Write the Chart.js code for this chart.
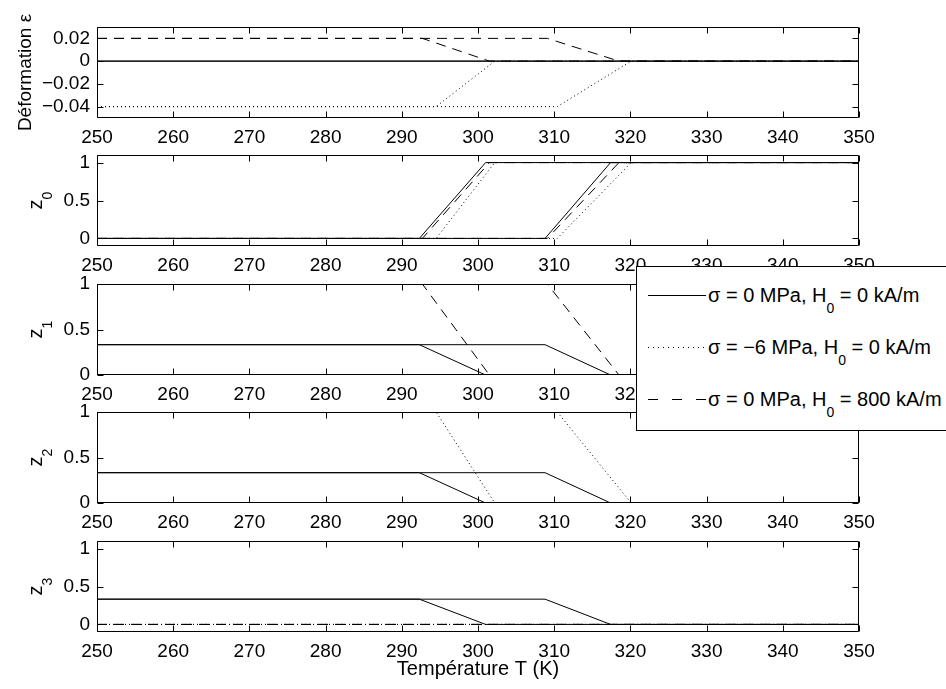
<!DOCTYPE html>
<html>
<head>
<meta charset="utf-8">
<script src="https://cdn.jsdelivr.net/npm/chart.js@4.4.1/dist/chart.umd.min.js"></script>
<style>
html, body { margin: 0; padding: 0; background: #fff; overflow: hidden; }
#wrap { position: relative; width: 946px; height: 689px; overflow: hidden; }
#wrap canvas { position: absolute; left: 0; }
#legend {
  position: absolute; left: 636px; top: 266px; width: 340px; height: 163px;
  border: 1px solid #000; background: #fff; z-index: 10;
  font: 20px "Liberation Sans", Arial, sans-serif; color: #000;
}
#legend .row { position: absolute; left: 11px; height: 22px; line-height: 22px; white-space: nowrap; }
#legend svg { vertical-align: top; }
#legend span { margin-left: 2px; }
#legend sub { font-size: 14px; vertical-align: -11px; line-height: 0; }
</style>
</head>
<body>
<div id="wrap">
  <div id="legend">
    <div class="row" style="top:17px">
      <svg width="58" height="22"><line x1="0" y1="11.5" x2="58" y2="11.5" stroke="#000" stroke-width="1"/></svg><span>σ = 0 MPa, H<sub>0</sub> = 0 kA/m</span>
    </div>
    <div class="row" style="top:69px">
      <svg width="58" height="22"><line x1="0" y1="11.5" x2="58" y2="11.5" stroke="#000" stroke-width="1" stroke-dasharray="1 4"/></svg><span>σ = −6 MPa, H<sub>0</sub> = 0 kA/m</span>
    </div>
    <div class="row" style="top:121px">
      <svg width="58" height="22"><line x1="0" y1="11.5" x2="58" y2="11.5" stroke="#000" stroke-width="1" stroke-dasharray="10 14"/></svg><span>σ = 0 MPa, H<sub>0</sub> = 800 kA/m</span>
    </div>
  </div>
</div>
<script>
var FAM = '"Liberation Sans", Arial, sans-serif';

// two branches per curve (heating / cooling), both listed from 250 K upward
// so the dash pattern lines up where they share the same segment
var T_solid_heat = [250, 308.8, 317.4, 350];
var T_solid_cool = [250, 292.3, 301.0, 350];
var T_dot_heat   = [250, 310.4, 320.1, 350];
var T_dot_cool   = [250, 294.5, 302.2, 350];
var T_dash_heat  = [250, 309.1, 318.5, 350];
var T_dash_cool  = [250, 292.7, 301.5, 350];

// values at those 4 break points (same for both branches)
var eps_solid = [0, 0, 0, 0];
var eps_dot   = [-0.04, -0.04, 0, 0];
var eps_dash  = [0.02, 0.02, 0, 0];

var z0_solid = [0, 0, 1, 1];
var z0_dot   = [0, 0, 1, 1];
var z0_dash  = [0, 0, 1, 1];

var z1_solid = [0.333, 0.333, 0, 0];
var z1_dot   = [0, 0, 0, 0];
var z1_dash  = [1, 1, 0, 0];

var z2_solid = [0.333, 0.333, 0, 0];
var z2_dot   = [1, 1, 0, 0];
var z2_dash  = [0, 0, 0, 0];

var z3_solid = [0.333, 0.333, 0, 0];
var z3_dot   = [0, 0, 0, 0];
var z3_dash  = [0, 0, 0, 0];

var xTicks   = [250, 260, 270, 280, 290, 300, 310, 320, 330, 340, 350];
var epsTicks = [-0.04, -0.02, 0, 0.02];
var zTicks   = [0, 0.5, 1];

var branches = [[T_solid_heat, T_solid_cool], [T_dot_heat, T_dot_cool], [T_dash_heat, T_dash_cool]];
var dashes = [[], [1, 3], [10, 7]];

var panels = [
  { top: 27,  ys: [eps_solid, eps_dot, eps_dash], min: -0.05, max: 0.03, ticks: epsTicks, title: "Déformation ε", tx: 31, tsize: 19 },
  { top: 155, ys: [z0_solid, z0_dot, z0_dash], min: -0.1, max: 1.1, ticks: zTicks, title: "z", sub: "0", tx: 42 },
  { top: 284, ys: [z1_solid, z1_dot, z1_dash], min: 0, max: 1, ticks: zTicks, title: "z", sub: "1", tx: 42 },
  { top: 412, ys: [z2_solid, z2_dot, z2_dash], min: 0, max: 1, ticks: zTicks, title: "z", sub: "2", tx: 42 },
  { top: 541, ys: [z3_solid, z3_dot, z3_dash], min: -0.1, max: 1.1, ticks: zTicks, title: "z", sub: "3", tx: 42, xtitle: "Température T (K)" }
];

// top pad is big enough that the rotated ylabel of panel 1 isn't cut off
var PAD_TOP = 24, PLOT_H = 91, PLOT_L = 97, PLOT_R = 859, W = 946;

// matlab style box: border, inward ticks on all 4 sides, rotated ylabel w/ subscript
var boxPlugin = {
  id: "mbox",
  afterDraw: function(chart, args, o) {
    var ctx = chart.ctx, ca = chart.chartArea;
    var xs = chart.scales.x, ys = chart.scales.y;
    var L = Math.round(ca.left) + 0.5, R = Math.round(ca.right) - 0.5;
    var T = Math.round(ca.top) + 0.5, B = Math.round(ca.bottom) - 0.5;
    ctx.save();
    ctx.strokeStyle = "#000";
    ctx.lineWidth = 1;
    ctx.beginPath();
    ctx.rect(L, T, R - L, B - T);
    xs.ticks.forEach(function(t) {
      var px = Math.round(xs.getPixelForValue(t.value)) + 0.5;
      ctx.moveTo(px, B); ctx.lineTo(px, B - 6);
      ctx.moveTo(px, T); ctx.lineTo(px, T + 6);
    });
    ys.ticks.forEach(function(t) {
      var py = Math.round(ys.getPixelForValue(t.value)) + 0.5;
      ctx.moveTo(L, py); ctx.lineTo(L + 6, py);
      ctx.moveTo(R, py); ctx.lineTo(R - 6, py);
    });
    ctx.stroke();

    var fs = o.tsize || 20;
    ctx.fillStyle = "#000";
    ctx.textAlign = "left";
    ctx.textBaseline = "alphabetic";
    ctx.translate(o.tx, (ca.top + ca.bottom) / 2);
    ctx.rotate(-Math.PI / 2);
    ctx.font = fs + "px " + FAM;
    var w1 = ctx.measureText(o.title).width, w2 = 0;
    if (o.sub) { ctx.font = "14px " + FAM; w2 = ctx.measureText(o.sub).width; }
    var x0 = -(w1 + w2) / 2;
    ctx.font = fs + "px " + FAM;
    ctx.fillText(o.title, x0, 0);
    if (o.sub) { ctx.font = "14px " + FAM; ctx.fillText(o.sub, x0 + w1, 10); }
    ctx.restore();

    if (o.xtitle) {
      ctx.save();
      ctx.fillStyle = "#000";
      ctx.font = "20px " + FAM;
      ctx.textAlign = "center";
      ctx.textBaseline = "middle";
      ctx.fillText(o.xtitle, (ca.left + ca.right) / 2, ca.bottom + 37);
      ctx.restore();
    }
  }
};

function fmtTick(v) {
  return v < 0 ? "\u2212" + String(-v) : String(v);
}

var wrap = document.getElementById("wrap");

panels.forEach(function(p, idx) {
  var cTop = p.top - PAD_TOP;
  var cH = (idx === panels.length - 1) ? (689 - cTop) : (PAD_TOP + PLOT_H + 34);
  var cv = document.createElement("canvas");
  cv.width = W; cv.height = cH;
  cv.style.top = cTop + "px";
  cv.style.width = W + "px"; cv.style.height = cH + "px";
  wrap.insertBefore(cv, document.getElementById("legend"));

  var sets = [];
  p.ys.forEach(function(vals, k) {
    branches[k].forEach(function(temps) {
      sets.push({
        data: temps.map(function(t, i) { return { x: t, y: vals[i] }; }),
        showLine: true,
        borderColor: "#000",
        borderWidth: 1,
        borderDash: dashes[k],
        pointRadius: 0,
        fill: false,
        tension: 0
      });
    });
  });

  new Chart(cv, {
    type: "scatter",
    data: { datasets: sets },
    options: {
      responsive: false,
      animation: false,
      devicePixelRatio: 1,
      events: [],
      layout: { padding: { top: PAD_TOP, right: W - PLOT_R, left: 0, bottom: 0 } },
      plugins: {
        legend: { display: false },
        tooltip: { enabled: false },
        mbox: { title: p.title, sub: p.sub, tx: p.tx, tsize: p.tsize, xtitle: p.xtitle }
      },
      scales: {
        x: {
          type: "linear", min: 250, max: 350,
          afterBuildTicks: function(s) { s.ticks = xTicks.map(function(v) { return { value: v }; }); },
          afterFit: function(s) { s.height = cH - PAD_TOP - PLOT_H; s.paddingLeft = 0; s.paddingRight = 0; },
          grid: { display: false, drawTicks: false },
          border: { display: false },
          ticks: { color: "#000", font: { size: 19, family: FAM }, padding: 8, maxRotation: 0, autoSkip: false }
        },
        y: {
          type: "linear", min: p.min, max: p.max,
          afterBuildTicks: function(s) { s.ticks = p.ticks.map(function(v) { return { value: v }; }); },
          afterFit: function(s) { s.width = PLOT_L; s.paddingTop = 0; s.paddingBottom = 0; },
          grid: { display: false, drawTicks: false },
          border: { display: false },
          ticks: { color: "#000", font: { size: 19, family: FAM }, padding: 7, callback: fmtTick }
        }
      }
    },
    plugins: [boxPlugin]
  });
});
</script>
</body>
</html>
